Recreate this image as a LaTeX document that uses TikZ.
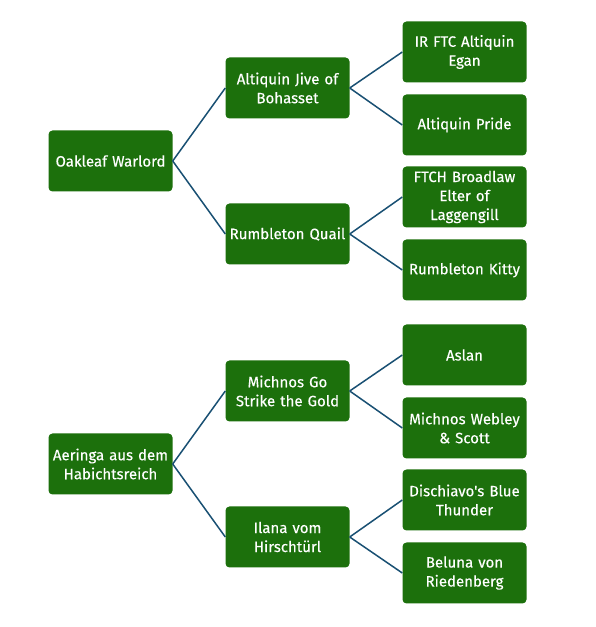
\documentclass[tikz,border=0pt]{standalone}
\usepackage{fontspec}
\setmainfont{Fira Sans}
\newfontfamily\boxfont[FakeBold=0.35]{Fira Sans}
\definecolor{boxgreen}{RGB}{28,112,12}
\definecolor{linkblue}{RGB}{25,80,115}
\begin{document}
\begin{tikzpicture}[x=1pt,y=1pt,
  box/.style={rectangle, rounded corners=4pt, fill=boxgreen, text=white,
    minimum width=124pt, minimum height=61pt, text width=122pt, inner sep=0pt,
    align=center, font=\boxfont\fontsize{15}{19}\selectfont},
  conn/.style={draw=linkblue, line width=1.5pt}]
\useasboundingbox (0,0) rectangle (595,627);
\fill[white] (0,0) rectangle (595,627);
% top tree
\node[box] (l1) at (110.5,627-161) {Oakleaf Warlord};
\node[box] (m1) at (287.5,627-88) {Altiquin Jive of\\Bohasset};
\node[box] (m2) at (287.5,627-234) {Rumbleton Quail};
\node[box] (r1) at (464.5,627-52) {IR FTC Altiquin\\Egan};
\node[box] (r2) at (464.5,627-125) {Altiquin Pride};
\node[box] (r3) at (464.5,627-197) {FTCH Broadlaw\\Elter of\\Laggengill};
\node[box] (r4) at (464.5,627-270) {Rumbleton Kitty};
% bottom tree
\node[box] (l2) at (110.5,627-464) {Aeringa aus dem\\Habichtsreich};
\node[box] (m3) at (287.5,627-391) {Michnos Go\\Strike the Gold};
\node[box] (m4) at (287.5,627-537) {Ilana vom\\Hirschtürl};
\node[box] (r5) at (464.5,627-355) {Aslan};
\node[box] (r6) at (464.5,627-428) {Michnos Webley\\\& Scott};
\node[box] (r7) at (464.5,627-500) {Dischiavo{\char"0027}s Blue\\Thunder};
\node[box] (r8) at (464.5,627-573) {Beluna von\\Riedenberg};
% connectors
\draw[conn] (l1.east) -- (m1.west);
\draw[conn] (l1.east) -- (m2.west);
\draw[conn] (m1.east) -- (r1.west);
\draw[conn] (m1.east) -- (r2.west);
\draw[conn] (m2.east) -- (r3.west);
\draw[conn] (m2.east) -- (r4.west);
\draw[conn] (l2.east) -- (m3.west);
\draw[conn] (l2.east) -- (m4.west);
\draw[conn] (m3.east) -- (r5.west);
\draw[conn] (m3.east) -- (r6.west);
\draw[conn] (m4.east) -- (r7.west);
\draw[conn] (m4.east) -- (r8.west);
\end{tikzpicture}
\end{document}
